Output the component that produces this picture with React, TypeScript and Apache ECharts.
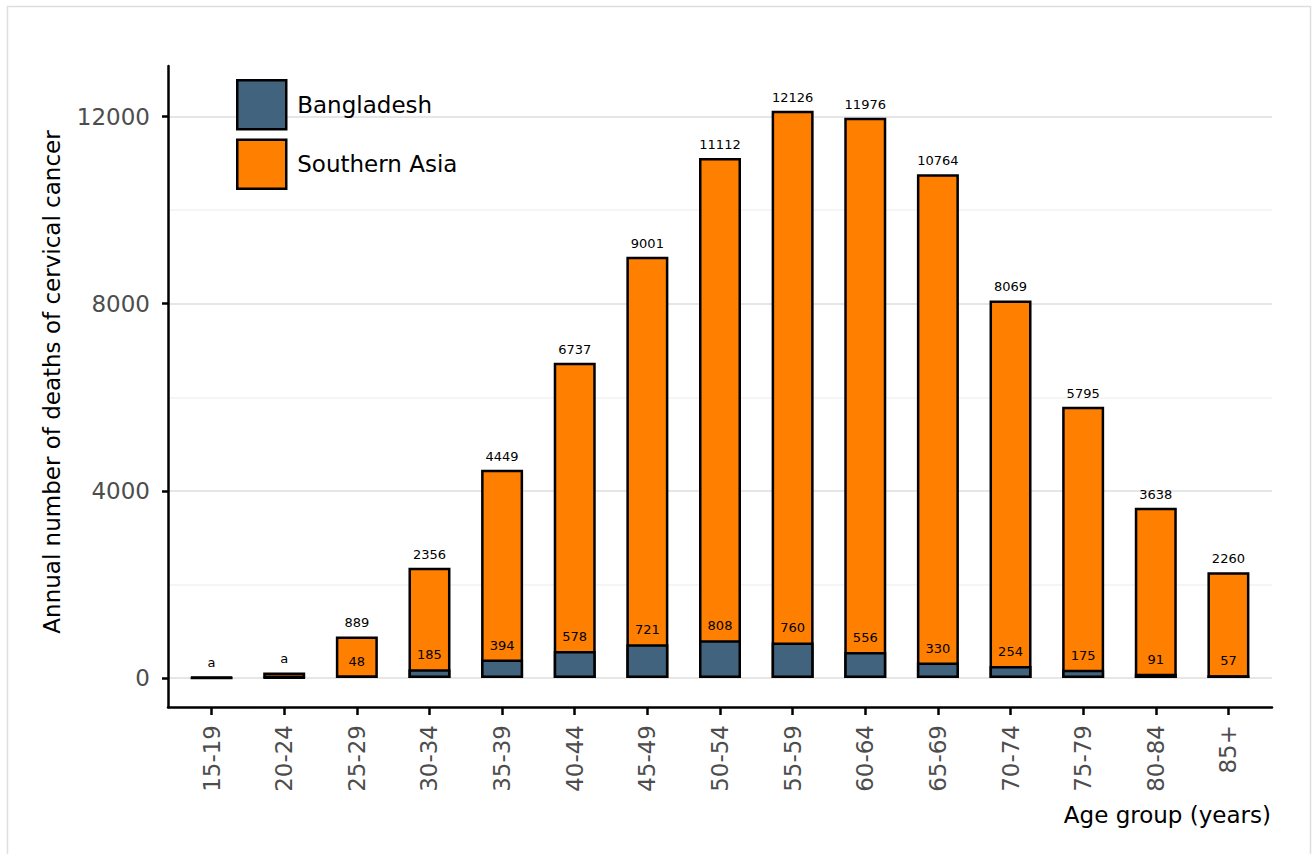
import { useEffect, useRef } from 'react';
import * as echarts from 'echarts';

const categories = ['15-19', '20-24', '25-29', '30-34', '35-39', '40-44', '45-49', '50-54', '55-59', '60-64', '65-69', '70-74', '75-79', '80-84', '85+'];
const southernAsia = [18, 118, 889, 2356, 4449, 6737, 9001, 11112, 12126, 11976, 10764, 8069, 5795, 3638, 2260];
const bangladesh = [2, 6, 48, 185, 394, 578, 721, 808, 760, 556, 330, 254, 175, 91, 57];
// categories whose top label is the footnote "a" instead of a number
const footnoteCategories = ['15-19', '20-24'];
const footnoteMark = 'a';
const yTicks = [0, 4000, 8000, 12000];
const yMinorGrid = [2000, 6000, 10000];

const FONT = 'DejaVu Sans';

export default function App() {
  const ref = useRef<HTMLDivElement>(null);
  useEffect(() => {
    if (!ref.current) return;
    const chart = echarts.init(ref.current, undefined, { renderer: 'svg' });
    const idx = categories.map((_, i) => i);
    const gridLines = [
      ...yTicks.map((v) => ({ yAxis: v, lineStyle: { color: '#e6e6e6', width: 2, type: 'solid' } })),
      ...yMinorGrid.map((v) => ({ yAxis: v, lineStyle: { color: '#f5f5f5', width: 2, type: 'solid' } })),
    ];
    chart.setOption({
      animation: false,
      backgroundColor: '#ffffff',
      textStyle: { fontFamily: FONT },
      grid: { left: 168, right: 40, top: 66, bottom: 147, containLabel: false },
      legend: {
        data: ['Bangladesh', 'Southern Asia'],
        orient: 'vertical',
        left: 231,
        top: 74,
        itemWidth: 49,
        itemHeight: 49,
        itemGap: 8,
        icon: 'rect',
        itemStyle: { borderColor: '#000', borderWidth: 2.5 },
        textStyle: { fontFamily: FONT, fontSize: 23, color: '#000', padding: [0, 0, 0, 6] },
        selectedMode: false,
      },
      xAxis: {
        type: 'value',
        min: -0.6,
        max: 14.6,
        axisLine: { show: true, onZero: false, lineStyle: { color: '#000', width: 2.5 } },
        axisTick: { show: true, customValues: idx, length: 8, lineStyle: { color: '#000', width: 2.5 } },
        axisLabel: {
          customValues: idx,
          formatter: (v: number) => categories[Math.round(v)] ?? '',
          rotate: 90,
          margin: 18,
          fontFamily: FONT,
          fontSize: 23,
          color: '#4d4d4d',
        },
        splitLine: { show: false },
      },
      yAxis: {
        type: 'value',
        min: -620,
        max: 13080,
        axisLine: { show: true, onZero: false, lineStyle: { color: '#000', width: 2.5 } },
        axisTick: { show: true, customValues: yTicks, length: 6, lineStyle: { color: '#000', width: 2.5 } },
        axisLabel: {
          customValues: yTicks,
          formatter: (v: number) => String(v),
          margin: 18,
          fontFamily: FONT,
          fontSize: 23,
          color: '#4d4d4d',
        },
        splitLine: { show: false },
      },
      graphic: [
        {
          type: 'rect',
          shape: { x: 7.5, y: 6.5, width: 1303, height: 900 },
          style: { fill: 'none', stroke: '#dedede', lineWidth: 1.5 },
          silent: true,
          z: -10,
        },
        {
          type: 'text',
          x: 52,
          y: 382,
          rotation: Math.PI / 2,
          style: {
            text: 'Annual number of deaths of cervical cancer',
            fontFamily: FONT,
            fontSize: 23,
            fill: '#000',
            align: 'center',
            verticalAlign: 'middle',
          },
        },
        {
          type: 'text',
          x: 1271,
          y: 815,
          style: {
            text: 'Age group (years)',
            fontFamily: FONT,
            fontSize: 23,
            fill: '#000',
            align: 'right',
            verticalAlign: 'middle',
          },
        },
      ],
      series: [
        {
          name: 'Southern Asia',
          type: 'bar',
          data: idx.map((i) => [i, southernAsia[i]]),
          barWidth: 42,
          barGap: '-100%',
          itemStyle: { color: '#ff7f00', borderColor: '#000', borderWidth: 2.5 },
          label: {
            show: true,
            position: 'top',
            distance: 7,
            fontFamily: FONT,
            fontSize: 13,
            color: '#000',
            formatter: (p: any) =>
              footnoteCategories.includes(categories[p.dataIndex]) ? footnoteMark : String(southernAsia[p.dataIndex]),
          },
          markLine: {
            silent: true,
            z: 0,
            symbol: 'none',
            label: { show: false },
            data: gridLines,
          },
        },
        {
          name: 'Bangladesh',
          type: 'bar',
          data: idx.map((i) => [i, bangladesh[i]]),
          barWidth: 42,
          barGap: '-100%',
          itemStyle: { color: '#41637d', borderColor: '#000', borderWidth: 2.5 },
          label: {
            show: true,
            position: 'top',
            distance: 8,
            fontFamily: FONT,
            fontSize: 13,
            color: '#000',
            formatter: (p: any) =>
              footnoteCategories.includes(categories[p.dataIndex]) ? '' : String(bangladesh[p.dataIndex]),
          },
        },
      ],
    });
    return () => chart.dispose();
  }, []);
  return (
    <div
      ref={ref}
      style={{ position: 'fixed', left: 0, top: 0, width: 1312, height: 854, background: '#fff' }}
    />
  );
}
